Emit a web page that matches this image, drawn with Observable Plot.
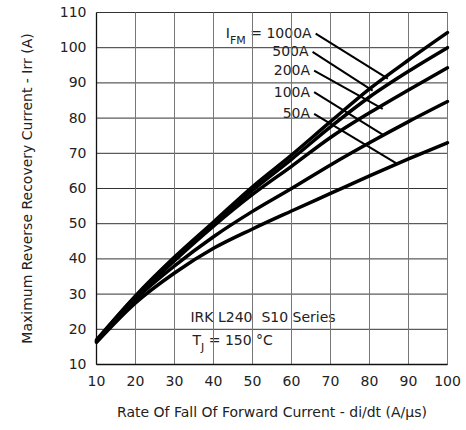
<!DOCTYPE html>
<html><head><meta charset="utf-8">
<script src="https://cdn.jsdelivr.net/npm/d3@7"></script>
<script src="https://cdn.jsdelivr.net/npm/@observablehq/plot@0.6"></script>
<style>body{margin:0;background:#fff}</style>
</head><body><div id="chart"></div>
<script>
// di/dt (A/µs)
const rates = [10, 20, 30, 40, 50, 60, 70, 80, 90, 100];
// Irr (A) per forward current
const irr1000 = [17.0, 29.5, 40.5, 50.5, 60.5, 69.5, 79.0, 88.3, 96.5, 104.3];
const irr500  = [16.8, 29.3, 40.0, 50.0, 59.5, 68.3, 77.5, 86.0, 93.3, 100.0];
const irr200  = [16.6, 29.0, 39.5, 49.3, 58.3, 66.3, 74.5, 81.5, 88.0, 94.3];
const irr100  = [16.5, 28.5, 38.0, 46.3, 53.5, 60.0, 66.7, 73.0, 79.0, 84.7];
const irr50   = [16.3, 27.5, 36.0, 43.0, 48.5, 53.6, 58.6, 63.6, 68.4, 73.0];
const seriesNames = ["1000A", "500A", "200A", "100A", "50A"];
const seriesValues = [irr1000, irr500, irr200, irr100, irr50];

// curve labels and their leader lines
const labelTexts = ["IFM = 1000A", "500A", "200A", "100A", "50A"];
const leaderX1 = [66.2, 65.4, 65.8, 65.8, 65.8];
const leaderY1 = [104.0, 98.8, 93.5, 87.4, 81.2];
const leaderX2 = [84.7, 80.8, 83.4, 83.8, 86.8];
const leaderY2 = [91.2, 87.8, 82.6, 75.0, 67.2];

// note block
const noteTexts = ["IRK L240\u00a0\u00a0S10 Series", "TJ = 150 °C"];
const noteX = [34.1, 34.6];
const noteY = [23.4, 16.8];

const xTicks = [10, 20, 30, 40, 50, 60, 70, 80, 90, 100];
const yTicks = [10, 20, 30, 40, 50, 60, 70, 80, 90, 100, 110];
const xDomain = [10, 100];
const yDomain = [10, 110];

const curves = seriesNames.flatMap((s, i) => rates.map((r, j) => ({series: s, x: r, y: seriesValues[i][j]})));
const leaders = labelTexts.map((t, i) => ({text: t, x1: leaderX1[i], y1: leaderY1[i], x2: leaderX2[i], y2: leaderY2[i]}));
const notes = noteTexts.map((t, i) => ({text: t, x: noteX[i], y: noteY[i]}));
const hGrid = yTicks.map(v => ({x1: xDomain[0], x2: xDomain[1], y: v}));
const vGrid = xTicks.map(v => ({x: v, y1: yDomain[0], y2: yDomain[1]}));

const plot = Plot.plot({
  width: 466,
  height: 430,
  marginLeft: 96,
  marginRight: 19,
  marginTop: 12,
  marginBottom: 66,
  style: {fontFamily: "DejaVu Sans", fontSize: "14px", color: "#222", background: "#fff"},
  x: {domain: xDomain, ticks: xTicks},
  y: {domain: yDomain, ticks: yTicks},
  marks: [
    Plot.axisY(yTicks, {tickSize: 0, tickPadding: 10, fontSize: 14, label: "Maximum Reverse Recovery Current - Irr (A)", labelAnchor: "center", labelArrow: "none", labelOffset: 74}),
    Plot.axisX(xTicks, {tickSize: 0, tickPadding: 12, fontSize: 14, label: "Rate Of Fall Of Forward Current - di/dt (A/µs)", labelAnchor: "center", labelArrow: "none", labelOffset: 52}),
    Plot.text(notes, {x: "x", y: "y", text: "text", textAnchor: "start", fontSize: 14, fill: "#222"}),
    Plot.text(leaders, {x: "x1", y: "y1", text: "text", textAnchor: "end", dx: -4, fontSize: 14, fill: "#222"}),
    Plot.link(hGrid, {x1: "x1", x2: "x2", y1: "y", y2: "y", stroke: "#333", strokeWidth: 1}),
    Plot.link(vGrid, {x1: "x", x2: "x", y1: "y1", y2: "y2", stroke: "#777", strokeWidth: 1}),
    Plot.link(hGrid.slice(0, 1), {x1: "x1", x2: "x2", y1: "y", y2: "y", stroke: "#111", strokeWidth: 1.3}),
    Plot.link(vGrid.slice(0, 1), {x1: "x", x2: "x", y1: "y1", y2: "y2", stroke: "#111", strokeWidth: 1.3}),
    Plot.link(leaders, {x1: "x1", y1: "y1", x2: "x2", y2: "y2", stroke: "black", strokeWidth: 2}),
    Plot.line(curves, {x: "x", y: "y", z: "series", stroke: "black", strokeWidth: 3.5, curve: "monotone-x"})
  ]
});

// subscripts (I_FM, T_J)
d3.select(plot).selectAll("text").each(function () {
  const t = d3.select(this);
  const s = t.text();
  let m = null;
  if (s.startsWith("IFM")) m = ["I", "FM", s.slice(3)];
  else if (s.startsWith("TJ")) m = ["T", "J", s.slice(2)];
  if (!m) return;
  t.text(null);
  t.append("tspan").text(m[0]);
  t.append("tspan").attr("dy", 6).attr("font-size", 11).text(m[1]);
  t.append("tspan").attr("dy", -6).text(m[2]);
});

document.getElementById("chart").appendChild(plot);
</script>
</body></html>
